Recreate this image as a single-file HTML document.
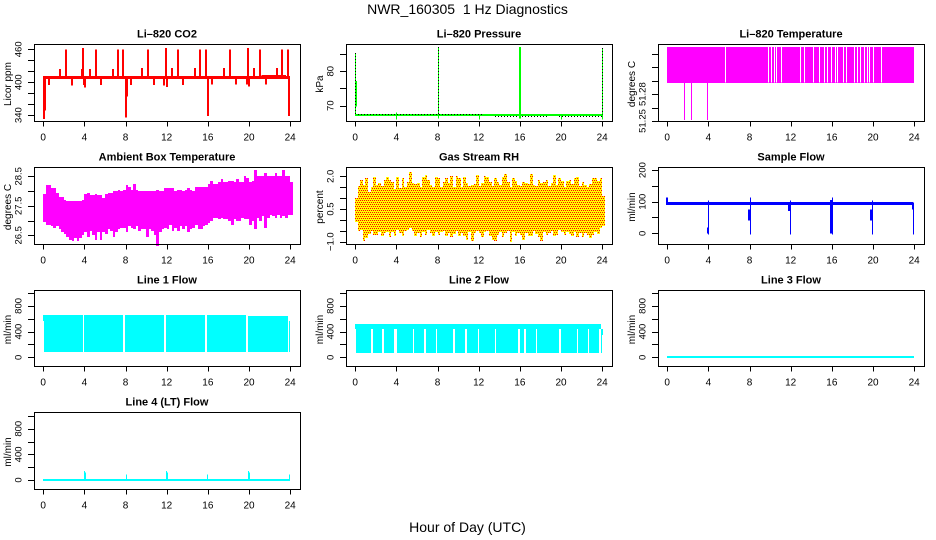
<!DOCTYPE html>
<html lang="en">
<head>
<meta charset="utf-8">
<title>NWR_160305 1 Hz Diagnostics</title>
<style>
html,body{margin:0;padding:0;background:#fff;}
svg{display:block;}
text{font-family:"Liberation Sans",sans-serif;fill:#000;}
.tick{font-size:10px;}
.ytick{font-size:9.5px;}
.ytitle{font-size:10px;}
.ttl{font-size:11px;font-weight:bold;}
.big{font-size:14px;}
</style>
</head>
<body>
<svg id="fig" xmlns="http://www.w3.org/2000/svg" width="936" height="540" viewBox="0 0 936 540">
<text class="big" x="467.5" y="14" text-anchor="middle" xml:space="preserve" style="white-space:pre">NWR_160305  1 Hz Diagnostics</text>
<text class="big" x="467.5" y="532" text-anchor="middle">Hour of Day (UTC)</text>
</svg>
<script>
// ---- shared axis data ----
const hourTicks = [0, 4, 8, 12, 16, 20, 24];

// ---- Li-820 CO2 ----
const co2Ticks = [340, 360, 380, 400, 420, 440, 460];
const co2Labels = [340, 400, 460];
const co2Base = 410;
const co2SpikeHours = [2.2, 3.9, 5.12, 7.25, 7.8, 10.14, 11.89, 13.08, 15.2, 15.8, 18.14, 19.89, 21.05, 23.2, 23.74,
  1.6, 3.8, 4.53, 6.77, 9.6, 12.5, 14.73, 17.6, 20.47, 22.67,
  0.03, 0.13, 0.58, 1.07, 2.8, 3.3, 5.6, 6.15, 8, 8.13, 8.5, 10.75, 11.76, 12, 13.6, 16, 16.45, 18.7, 19.8, 20, 21.63, 23.9, 4.05, 3.95];
const co2SpikeHigh = [460, 462, 460, 460, 460, 460, 462, 460, 460, 460, 460, 462, 460, 460, 460,
  424, 424, 424, 424, 426, 426, 426, 426, 426, 426,
  410, 410, 410, 410, 410, 410, 410, 410, 410, 410, 410, 410, 410, 410, 410, 410, 410, 410, 410, 410, 410, 410, 410, 410];
const co2SpikeLow = [410, 410, 410, 410, 410, 410, 410, 410, 410, 410, 410, 410, 410, 410, 410,
  410, 410, 410, 410, 410, 410, 410, 410, 410, 410,
  333, 348, 395, 407, 394, 407, 395, 407, 336, 374, 395, 395, 394, 391, 395, 338, 396, 396, 396, 392, 396, 338, 390, 395];

// ---- Li-820 Pressure ----
const pressureTicks = [70, 75, 80, 85];
const pressureLabels = [70, 80];
const pressureBaseHours = [0, 12.4, 24];
const pressureBaseValues = [67.4, 67.4, 67.2];
const pressureDotStart = [0, 13.6, 19.8];
const pressureDotEnd = [12.4, 18.8, 24];
const pressureDotValue = [67.7, 66.9, 66.9];
const pressureSpikeHours = [0, 0.08, 4, 8, 8, 12, 16, 15.95, 20, 24];
const pressureSpikeHigh = [85.3, 77.2, 68, 87, 68, 67.5, 87, 87, 67, 86.7];
const pressureSpikeLow = [67.3, 69.7, 66, 66.3, 66.3, 66, 66.3, 66.3, 66, 66];
const pressureDottedSpikes = [0, 8, 24];
const pressureDottedTop = [85.3, 87, 86.7];

// ---- Li-820 Temperature ----
const tempTicks = [51.25, 51.265, 51.28, 51.295, 51.31, 51.325];
const tempLabels = [51.25, 51.28];
const tempBandTop = 51.3328;
const tempBandBottom = 51.2929;
const tempGapHours = [5.64, 9.78, 10.04, 10.33, 10.56, 11.01, 12.92, 13.31, 14.12, 14.77, 15.25, 15.55, 15.93, 16.26, 16.49, 17.1, 17.33, 18.17, 18.46, 18.72, 19.14, 19.37, 19.6, 20.0, 20.73];
const tempLowHours = [1.65, 2.33, 3.89];
const tempLowValues = [51.251, 51.251, 51.251];

// ---- Ambient Box Temperature ----
const ambientTicks = [26.5, 27, 27.5, 28, 28.5];
const ambientLabels = [26.5, 27.5, 28.5];
const ambientHigh = [27.9,28.2,28.2,28.1,28.1,27.95,27.8,27.8,27.7,27.65,27.65,27.65,27.65,27.65,27.65,27.7,
  27.9,27.95,27.85,27.85,27.9,27.85,27.85,27.75,27.9,27.95,27.95,28.0,28.0,28.05,28.0,28.05,
  28.2,28.15,28.05,28.25,28.05,28.0,28.0,28.0,28.0,28.0,28.0,28.0,28.05,28.0,28.0,28.1,
  28.1,28.1,28.1,28.0,28.05,28.05,28.0,28.05,28.1,28.05,28.0,28.15,28.15,28.15,28.15,28.15,
  28.25,28.35,28.25,28.25,28.3,28.4,28.3,28.3,28.35,28.35,28.3,28.4,28.3,28.3,28.5,28.45,
  28.3,28.35,28.7,28.5,28.5,28.5,28.6,28.5,28.5,28.5,28.6,28.5,28.5,28.7,28.5,28.5,28.3];
const ambientLow = [26.95,26.85,26.85,26.8,26.75,26.8,26.7,26.6,26.55,26.45,26.35,26.3,26.4,26.3,26.4,26.5,
  26.6,26.45,26.65,26.5,26.35,26.6,26.35,26.6,26.55,26.7,26.65,26.45,26.6,26.7,26.75,26.75,
  26.6,26.8,26.75,26.7,26.8,26.65,26.7,26.7,26.45,26.7,26.65,26.5,26.15,26.6,26.7,26.75,
  26.7,26.85,26.65,26.75,26.65,26.8,26.7,26.8,26.6,26.7,26.75,26.85,26.7,26.7,26.8,26.85,
  26.9,27.0,27.1,27.1,27.05,27.1,27.05,27.05,27.0,26.85,27.05,27.0,27.0,27.1,27.05,27.05,
  26.85,27.0,26.7,27.1,27.0,27.15,26.75,27.1,27.2,27.15,27.1,27.2,27.1,27.15,27.1,27.2,27.2];

// ---- Gas Stream RH ----
const rhTicks = [-1, -0.5, 0, 0.5, 1, 1.5, 2];
const rhLabels = [-1, 0.5, 2];
const rhLabelText = ['\u22121.0', '0.5', '2.0'];
const rhHigh = [1.0,1.55,1.85,1.6,1.9,1.3,1.5,1.95,1.6,1.7,1.55,1.85,1.95,1.85,1.75,1.4,
  1.95,1.45,1.9,1.5,1.75,2.2,1.7,1.65,1.7,1.5,1.95,2.05,1.85,1.6,1.5,1.95,
  1.9,1.5,1.75,1.9,1.7,2.0,1.5,2.0,1.9,1.5,1.95,1.7,1.55,1.6,1.65,2.05,
  1.55,1.7,2.0,1.95,1.75,1.55,1.9,1.75,1.6,1.95,2.1,1.75,1.5,1.9,1.8,1.6,
  1.55,1.75,1.7,1.65,2.1,1.6,1.55,1.85,1.7,1.75,1.85,1.55,1.7,2.05,1.6,1.9,
  1.8,1.5,1.8,1.85,1.65,1.9,1.95,1.55,1.75,1.6,1.5,1.65,1.9,1.9,1.8,1.9,1.1];
const rhLow = [-0.1,-0.5,-0.45,-0.95,-0.85,-0.65,-0.5,-0.7,-0.7,-0.55,-0.75,-0.6,-0.55,-0.8,-0.55,-0.75,
  -0.45,-0.6,-0.75,-0.5,-0.45,-0.35,-0.5,-0.75,-0.6,-0.8,-0.55,-0.7,-0.45,-0.6,-0.75,-0.55,
  -0.7,-0.55,-0.5,-0.75,-0.6,-0.8,-0.65,-0.5,-0.75,-0.6,-0.75,-0.9,-0.55,-0.95,-0.6,-0.5,
  -0.6,-0.8,-0.55,-0.5,-0.75,-0.9,-0.95,-0.7,-0.55,-0.8,-0.6,-0.5,-1.0,-0.55,-0.75,-0.6,
  -0.7,-0.9,-0.6,-0.75,-0.75,-0.5,-0.65,-0.8,-0.95,-0.55,-0.7,-0.6,-0.5,-0.75,-0.7,-0.45,
  -0.55,-0.7,-0.55,-0.65,-0.75,-0.55,-0.8,-0.6,-0.8,-0.6,-0.7,-0.85,-0.7,-0.55,-0.65,-0.35,-0.3];

// ---- Sample Flow ----
const sampleTicks = [0, 50, 100, 150, 200];
const sampleLabels = [0, 100, 200];
const sampleBandTop = 98;
const sampleBandBottom = 89;
const sampleSpikeHours = [0, 3.97, 3.92, 8, 7.93, 11.92, 11.87, 16, 15.9, 19.9, 19.85, 23.9, 23.85];
const sampleSpikeHigh = [113, 103, 18, 113, 75, 103, 90, 113, 105, 103, 75, 98, 90];
const sampleSpikeLow = [90, -3, 0, -3, 40, -3, 70, -3, 0, -3, 40, -3, 75];

// ---- Line flows ----
const flowTicks = [0, 200, 400, 600, 800, 1000];
const flowLabels = [0, 400, 800];
const line1Starts = [0, 0.08, 4.0, 7.97, 11.95, 15.92, 19.92, 23.88, 23.92];
const line1Ends = [0.08, 3.82, 7.8, 11.78, 15.75, 19.75, 23.75, 23.95, 24.0];
const line1Tops = [664, 664, 664, 664, 664, 664, 650, 570, 560];
const line1Bottoms = [570, 89, 89, 89, 89, 89, 89, 89, 470];
const line2UpperStart = 0;
const line2UpperEnd = 23.93;
const line2UpperTop = 515;
const line2UpperBottom = 447;
const line2Starts = [0.06, 1.72, 2.76, 4.08, 5.74, 6.84, 7.96, 9.69, 10.82, 12.0, 13.71, 15.99, 16.56, 17.66, 19.97, 21.67, 22.74, 23.84, 23.95];
const line2Ends = [1.58, 2.62, 3.8, 5.6, 6.7, 7.85, 9.55, 10.68, 11.9, 13.57, 15.82, 16.42, 17.52, 19.83, 21.53, 22.6, 23.7, 23.93, 24.05];
const line2Tops = [447, 447, 447, 447, 447, 447, 447, 447, 447, 447, 447, 447, 447, 447, 447, 447, 447, 447, 440];
const line2Bottoms = [68, 68, 68, 68, 68, 68, 68, 68, 68, 68, 68, 68, 68, 68, 68, 68, 68, 68, 350];
const line3Hours = [0, 24];
const line3Values = [5, 5];
const line4Hours = [0, 24];
const line4Values = [0, 0];
const line4SpikeHours = [3.97, 4.07, 8, 11.93, 12.03, 15.95, 19.93, 20.03, 23.9];
const line4SpikeHigh = [140, 120, 85, 140, 120, 85, 140, 120, 85];

// ---- layout ----
const svg = document.getElementById('fig');
const NS = 'http://www.w3.org/2000/svg';

function named(el, name) {
  
  
  return el;
}
function mk(tag, parent, props) {
  const el = document.createElementNS(NS, tag);
  for (const k in props) el.setAttribute(k, props[k]);
  parent.appendChild(el);
  return el;
}
function panel(key, title, ylabel, left, top, bottom, yMin, yMax, yTicks, yLabels, yText) {
  const g = named(mk('g', svg, {}), key + '-panel');
  const marks = named(mk('g', g, {'shape-rendering': 'crispEdges'}), key + '-marks');
  const p = {
    key: key, g: g, marks: marks, left: left, top: top, bottom: bottom,
    x: function (h) { return left + 9.2 + h * (247 / 24); },
    y: function (v) { return bottom - (v - yMin) / (yMax - yMin) * (bottom - top); }
  };
  const right = left + 266;
  const axes = named(mk('g', g, {stroke: '#000', 'stroke-width': 1, fill: 'none', 'shape-rendering': 'crispEdges'}), key + '-axes');
  named(mk('rect', axes, {x: left + 0.5, y: top + 0.5, width: right - left, height: bottom - top}), key + '-plot-box');
  hourTicks.forEach(function (h) {
    const px = Math.round(p.x(h)) + 0.5;
    named(mk('line', axes, {x1: px, x2: px, y1: bottom, y2: bottom + 5.5}), key + '-x-tick');
    const t = named(mk('text', g, {class: 'tick', x: p.x(h), y: bottom + 19.5, 'text-anchor': 'middle'}), key + '-x-tick-label');
    t.textContent = h;
  });
  yTicks.forEach(function (v) {
    const py = Math.round(p.y(v)) + 0.5;
    named(mk('line', axes, {x1: left - 6, x2: left, y1: py, y2: py}), key + '-y-tick');
  });
  yLabels.forEach(function (v, i) {
    const bx = left - 12.5, by = p.y(v);
    const t = named(mk('text', g, {class: 'ytick', x: bx, y: by, 'text-anchor': 'middle', transform: 'rotate(-90 ' + bx + ' ' + by + ')'}), key + '-y-tick-label');
    t.textContent = yText ? yText[i] : v;
  });
  const cy = (top + bottom) / 2 + 1.5, tx = left - 23;
  const yt = named(mk('text', g, {class: 'ytitle', x: tx, y: cy, 'text-anchor': 'middle', transform: 'rotate(-90 ' + tx + ' ' + cy + ')'}), key + '-y-axis-title');
  yt.textContent = ylabel;
  const tt = named(mk('text', g, {class: 'ttl', x: left + 133, y: top - 6.5, 'text-anchor': 'middle'}), key + '-title');
  tt.textContent = title;
  return p;
}
function vline(p, h, hi, lo, color, w, name, dash) {
  const px = Math.round(p.x(h)) + (w % 2 ? 0.5 : 0);
  const el = mk('line', p.marks, {x1: px, x2: px, y1: p.y(hi), y2: p.y(lo), stroke: color, 'stroke-width': w});
  if (dash) el.setAttribute('stroke-dasharray', dash);
  return named(el, name);
}
function hline(p, h0, h1, v, color, w, name, dash) {
  const py = Math.round(p.y(v)) + (w % 2 ? 0.5 : 0);
  const el = mk('line', p.marks, {x1: p.x(h0), x2: p.x(h1), y1: py, y2: py, stroke: color, 'stroke-width': w});
  if (dash) el.setAttribute('stroke-dasharray', dash);
  return named(el, name);
}
function band(p, h0, h1, hi, lo, fill, name) {
  const x0 = Math.round(p.x(h0)), x1 = Math.round(p.x(h1));
  const y0 = Math.round(p.y(hi)), y1 = Math.round(p.y(lo));
  return named(mk('rect', p.marks, {x: x0, y: y0, width: Math.max(1, x1 - x0), height: Math.max(1, y1 - y0), fill: fill}), name);
}
function envelope(p, highs, lows, fill, name) {
  const step = 24 / (highs.length - 1);
  highs.forEach(function (hi, i) {
    band(p, i * step, (i + 1) * step, hi, lows[i], fill, name);
  });
}
// red dotted columns over the yellow range: one dot every 4px, staggered by 2px on alternate columns
function dottedEnvelope(p, highs, lows, color, name) {
  const step = 24 / (highs.length - 1);
  highs.forEach(function (hi, i) {
    const x0 = Math.round(p.x(i * step)), x1 = Math.round(p.x((i + 1) * step));
    const y0 = Math.round(p.y(hi)), y1 = Math.round(p.y(lows[i]));
    for (let px = x0; px < x1; px++) {
      const target = px % 2 === 0 ? 0 : 2;
      const offset = ((y0 - target) % 4 + 4) % 4;
      const el = mk('line', p.marks, {x1: px + 0.5, x2: px + 0.5, y1: y0, y2: y1, stroke: color, 'stroke-width': 1, 'stroke-dasharray': '1 3', 'stroke-dashoffset': offset, 'shape-rendering': 'auto'});
      named(el, name);
    }
  });
}

const L = [34, 346, 658];

// Row 1
const pCo2 = panel('co2', 'Li\u2013820 CO2', 'Licor ppm', L[0], 44, 121, 329.2, 469.7, co2Ticks, co2Labels);
hline(pCo2, 0, 24, co2Base, '#ff0000', 3, 'co2-baseline');
hline(pCo2, 21.2, 23.6, co2Base + 1.5, '#ff0000', 2, 'co2-baseline-upper');
co2SpikeHours.forEach(function (h, i) {
  vline(pCo2, h, co2SpikeHigh[i], co2SpikeLow[i], '#ff0000', 2, 'co2-spike');
});

const pPres = panel('pressure', 'Li\u2013820 Pressure', 'kPa', L[1], 44, 121, 65.55, 87.9, pressureTicks, pressureLabels);
for (let i = 0; i < pressureBaseHours.length - 1; i++) {
  hline(pPres, pressureBaseHours[i], pressureBaseHours[i + 1], pressureBaseValues[i], '#00ff00', 2, 'pressure-baseline');
}
pressureDotStart.forEach(function (h, i) {
  hline(pPres, h, pressureDotEnd[i], pressureDotValue[i], '#000000', 1, 'pressure-dotted-trace', '1 2');
});
pressureSpikeHours.forEach(function (h, i) {
  vline(pPres, h, pressureSpikeHigh[i], pressureSpikeLow[i], '#00ff00', i === 1 ? 2 : 1, 'pressure-spike');
});
pressureDottedSpikes.forEach(function (h, i) {
  vline(pPres, h, pressureDottedTop[i], 67.4, '#000000', 1, 'pressure-dotted-spike', '1 2');
});

const pTemp = panel('temperature', 'Li\u2013820 Temperature', 'degrees C', L[2], 44, 121, 51.25, 51.336, tempTicks, tempLabels);
band(pTemp, 0, 24, tempBandTop, tempBandBottom, '#ff00ff', 'temperature-band');
tempGapHours.forEach(function (h) {
  vline(pTemp, h, tempBandTop, tempBandBottom, '#ffffff', 1, 'temperature-gap');
});
tempLowHours.forEach(function (h, i) {
  vline(pTemp, h, tempBandBottom, tempLowValues[i], '#ff00ff', 1, 'temperature-low-spike');
});

// Row 2
const pAmb = panel('ambient', 'Ambient Box Temperature', 'degrees C', L[0], 167, 244, 26.205, 28.815, ambientTicks, ambientLabels);
envelope(pAmb, ambientHigh, ambientLow, '#ff00ff', 'ambient-range');

const pRh = panel('rh', 'Gas Stream RH', 'percent', L[1], 167, 244, -1.105, 2.427, rhTicks, rhLabels, rhLabelText);
envelope(pRh, rhHigh, rhLow, '#ffff00', 'rh-range');
dottedEnvelope(pRh, rhHigh, rhLow, '#ff0000', 'rh-dotted-trace');

const pSample = panel('sample', 'Sample Flow', 'ml/min', L[2], 167, 244, -33.8, 209.5, sampleTicks, sampleLabels);
band(pSample, 0, 23.9, sampleBandTop, sampleBandBottom, '#0000ff', 'sample-band');
sampleSpikeHours.forEach(function (h, i) {
  vline(pSample, h, sampleSpikeHigh[i], sampleSpikeLow[i], '#0000ff', i % 2 ? 1 : 2, 'sample-spike');
});

// Row 3
const pL1 = panel('line1', 'Line 1 Flow', 'ml/min', L[0], 290, 366, -135, 1047, flowTicks, flowLabels);
line1Starts.forEach(function (h, i) {
  band(pL1, h, line1Ends[i], line1Tops[i], line1Bottoms[i], '#00ffff', 'line1-band');
});

const pL2 = panel('line2', 'Line 2 Flow', 'ml/min', L[1], 290, 366, -135, 1047, flowTicks, flowLabels);
band(pL2, line2UpperStart, line2UpperEnd, line2UpperTop, line2UpperBottom, '#00ffff', 'line2-upper-band');
line2Starts.forEach(function (h, i) {
  band(pL2, h, line2Ends[i], line2Tops[i], line2Bottoms[i], '#00ffff', 'line2-band');
});

const pL3 = panel('line3', 'Line 3 Flow', 'ml/min', L[2], 290, 366, -135, 1047, flowTicks, flowLabels);
hline(pL3, line3Hours[0], line3Hours[1], line3Values[0], '#00ffff', 2, 'line3-trace');

// Row 4
const pL4 = panel('line4', 'Line 4 (LT) Flow', 'ml/min', L[0], 412, 489, -140, 1061, flowTicks, flowLabels);
hline(pL4, line4Hours[0], line4Hours[1], line4Values[0], '#00ffff', 2, 'line4-trace');
line4SpikeHours.forEach(function (h, i) {
  vline(pL4, h, line4SpikeHigh[i], line4Values[0], '#00ffff', 1, 'line4-spike');
});
</script>
</body>
</html>
